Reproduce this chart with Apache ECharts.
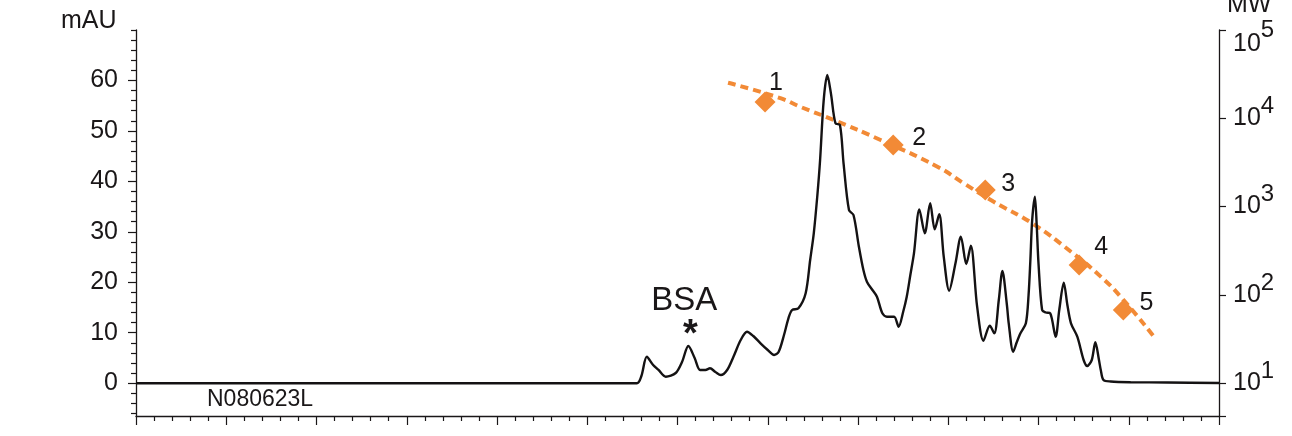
<!DOCTYPE html>
<html>
<head>
<meta charset="utf-8">
<script src="https://cdn.jsdelivr.net/npm/echarts@6/dist/echarts.min.js"></script>
<style>html,body{margin:0;padding:0;background:#fff}#c{width:1292px;height:436px}</style>
</head>
<body>
<div id="c"></div>
<script>
// ---- data ----
const elutionX = [0, 5.55, 5.60, 5.66, 5.73, 5.79, 5.87, 5.98, 6.05, 6.12, 6.19, 6.25, 6.31, 6.36, 6.42, 6.48, 6.55, 6.62, 6.70, 6.77, 6.84, 6.92, 7.00, 7.07, 7.12, 7.18, 7.23, 7.27, 7.34, 7.42, 7.47, 7.51, 7.55, 7.58, 7.62, 7.66, 7.70, 7.75, 7.80, 7.84, 7.90, 7.95, 8.01, 8.06, 8.10, 8.16, 8.21, 8.27, 8.32, 8.40, 8.45, 8.50, 8.54, 8.58, 8.62, 8.68, 8.74, 8.80, 8.85, 8.90, 8.95, 9.01, 9.08, 9.14, 9.20, 9.25, 9.32, 9.39, 9.46, 9.51, 9.56, 9.60, 9.65, 9.67, 9.72, 9.76, 9.80, 9.86, 9.89, 9.91, 9.93, 9.96, 9.98, 10.00, 10.04, 10.08, 10.13, 10.19, 10.23, 10.28, 10.32, 10.36, 10.43, 10.50, 10.54, 10.59, 10.63, 10.67, 10.69, 10.72, 10.80, 11.02, 11.43, 12.00];
const absorbance = [0, 0, 1.43, 5.25, 3.61, 2.62, 1.29, 2.02, 4.20, 7.37, 4.99, 2.62, 2.62, 2.95, 2.22, 1.62, 2.62, 5.25, 8.56, 10.21, 9.35, 7.91, 6.58, 5.59, 6.18, 9.55, 12.92, 14.51, 14.84, 17.82, 24.42, 29.71, 37.30, 44.23, 56.12, 61.08, 57.45, 51.51, 51.17, 43.58, 34.32, 33.33, 27.05, 22.43, 20.06, 18.47, 17.14, 13.85, 13.18, 13.18, 11.20, 14.11, 17.14, 21.44, 25.74, 34.46, 29.71, 35.65, 30.50, 33.47, 25.07, 18.33, 23.76, 29.03, 23.62, 27.25, 15.16, 8.42, 11.40, 9.89, 16.49, 22.24, 15.50, 11.87, 6.24, 8.16, 9.89, 11.87, 17.48, 24.42, 32.34, 36.96, 31.35, 23.76, 14.51, 14.01, 13.85, 9.22, 14.51, 19.92, 15.50, 11.87, 9.22, 4.60, 3.41, 4.60, 8.11, 4.60, 2.62, 0.63, 0.34, 0.20, 0.14, 0.04];

const standardX = [6.97, 8.39, 9.41, 10.45, 10.94];
const standardMW = [15300, 4990, 1540, 218, 67.5];
const standardLabels = ['1', '2', '3', '4', '5'];

const fitX = [6.56, 7.14, 7.36, 7.73, 8.25, 8.88, 9.17, 9.50, 9.93, 10.36, 10.69, 10.91, 11.28];
const fitMW = [25300, 16900, 13500, 9570, 5680, 2830, 1840, 1140, 647, 308, 161, 95.5, 33.6];

const bsaPeak = [6.12, 7.37];

const leftTickValues = [0, 10, 20, 30, 40, 50, 60];
const leftMinorTickValues = [-6, -4, -2, 2, 4, 6, 8, 12, 14, 16, 18, 22, 24, 26, 28, 32, 34, 36, 38, 42, 44, 46, 48, 52, 54, 56, 58, 62, 64, 66, 68, 70];

// ---- styles ----
const INK = '#1a1718';
const ORANGE = '#F28A36';
const FONT = '"Liberation Sans", Arial, Helvetica, sans-serif';
const labelOffsets = [[11, -19], [26, -7], [23, -6], [22, -18], [23, -7]];

const chart = echarts.init(document.getElementById('c'), null, { renderer: 'canvas' });

const option = {
  animation: false,
  backgroundColor: '#ffffff',
  textStyle: { fontFamily: FONT, color: INK },
  grid: { left: 136, right: 73, top: 30, bottom: 20, containLabel: false, outerBoundsMode: 'none' },
  xAxis: {
    type: 'value', min: 0, max: 12, interval: 1,
    axisLine: { show: true, onZero: false, lineStyle: { color: INK, width: 1.3 } },
    axisTick: { show: true, length: 9, lineStyle: { color: INK, width: 1.2 } },
    minorTick: { show: true, splitNumber: 5, length: 5, lineStyle: { color: INK, width: 1.2 } },
    axisLabel: { show: false },
    splitLine: { show: false }, minorSplitLine: { show: false }
  },
  yAxis: [
    {
      type: 'value', position: 'left', min: -6.5, max: 70,
      axisLine: { show: true, onZero: false, lineStyle: { color: INK, width: 1.3 } },
      axisTick: { show: true, length: 8, customValues: leftTickValues, lineStyle: { color: INK, width: 1.2 } },
      axisLabel: { show: true, customValues: leftTickValues, fontSize: 25, color: INK, fontFamily: FONT, margin: 18 },
      splitLine: { show: false }
    },
    {
      type: 'log', logBase: 10, position: 'right', min: 4.25, max: 100000,
      axisLine: { show: true, onZero: false, lineStyle: { color: INK, width: 1.3 } },
      axisTick: { show: true, length: 7, lineStyle: { color: INK, width: 1.2 } },
      axisLabel: {
        show: true, margin: 14, color: INK, fontFamily: FONT,
        padding: [0, 0, 12, 0],
        formatter: function (v) {
          const e = Math.round(Math.log10(v));
          if (Math.abs(Math.log10(v) - e) > 1e-6 || e < 1) return '';
          if (e === 5) return '{bt|10}{st|' + e + '}';
          return '{b|10}{s|' + e + '}';
        },
        rich: {
          b: { fontSize: 25, lineHeight: 24, padding: [12, 0, 0, 0], color: INK, fontFamily: FONT },
          s: { fontSize: 24, lineHeight: 24, padding: [0, 0, 12, 0], color: INK, fontFamily: FONT },
          bt: { fontSize: 25, lineHeight: 24, padding: [40, 0, 0, 0], color: INK, fontFamily: FONT },
          st: { fontSize: 24, lineHeight: 24, padding: [26, 0, 14, 0], color: INK, fontFamily: FONT }
        }
      },
      splitLine: { show: false }
    },
    {
      type: 'value', position: 'left', min: -6.5, max: 70,
      axisLine: { show: false },
      axisTick: { show: true, length: 5, customValues: leftMinorTickValues, lineStyle: { color: INK, width: 1.2 } },
      axisLabel: { show: false },
      splitLine: { show: false }
    }
  ],
  graphic: [
    { type: 'text', left: 61, top: 9, style: { text: 'mAU', fontSize: 25, fontFamily: FONT, fill: INK } },
    { type: 'text', left: 1227, top: -7, style: { text: 'MW', fontSize: 25, fontFamily: FONT, fill: INK } },
    { type: 'text', left: 207, top: 388, style: { text: 'N080623L', fontSize: 23, fontFamily: FONT, fill: INK } }
  ],
  series: [
    {
      name: 'fit', type: 'line', yAxisIndex: 1, z: 2,
      data: fitX.map((x, i) => [x, fitMW[i]]),
      showSymbol: false, smooth: 0.5,
      lineStyle: { color: ORANGE, width: 4, type: [8, 5] }
    },
    {
      name: 'absorbance', type: 'line', yAxisIndex: 0, z: 3,
      data: elutionX.map((x, i) => [x, absorbance[i]]),
      showSymbol: false, smooth: 0.3,
      lineStyle: { color: '#141213', width: 2.4 },
      markPoint: {
        symbol: 'circle', symbolSize: 1,
        itemStyle: { color: 'rgba(0,0,0,0)' },
        data: [
          { coord: bsaPeak, label: { show: true, position: 'inside', offset: [-4, -45], formatter: 'BSA', fontSize: 33, color: INK, fontFamily: FONT } },
          { coord: bsaPeak, label: { show: true, position: 'inside', offset: [2, -10], formatter: '*', fontSize: 38, fontWeight: 'bold', color: INK, fontFamily: FONT } }
        ]
      }
    },
    {
      name: 'standards', type: 'scatter', yAxisIndex: 1, z: 4,
      symbol: 'diamond', symbolSize: 21,
      itemStyle: { color: ORANGE, opacity: 1 },
      data: standardX.map((x, i) => ({
        value: [x, standardMW[i]],
        label: {
          show: true, position: 'inside', offset: labelOffsets[i],
          formatter: standardLabels[i], fontSize: 25, color: INK, fontFamily: FONT
        }
      }))
    }
  ]
};

chart.setOption(option);
</script>
</body>
</html>
